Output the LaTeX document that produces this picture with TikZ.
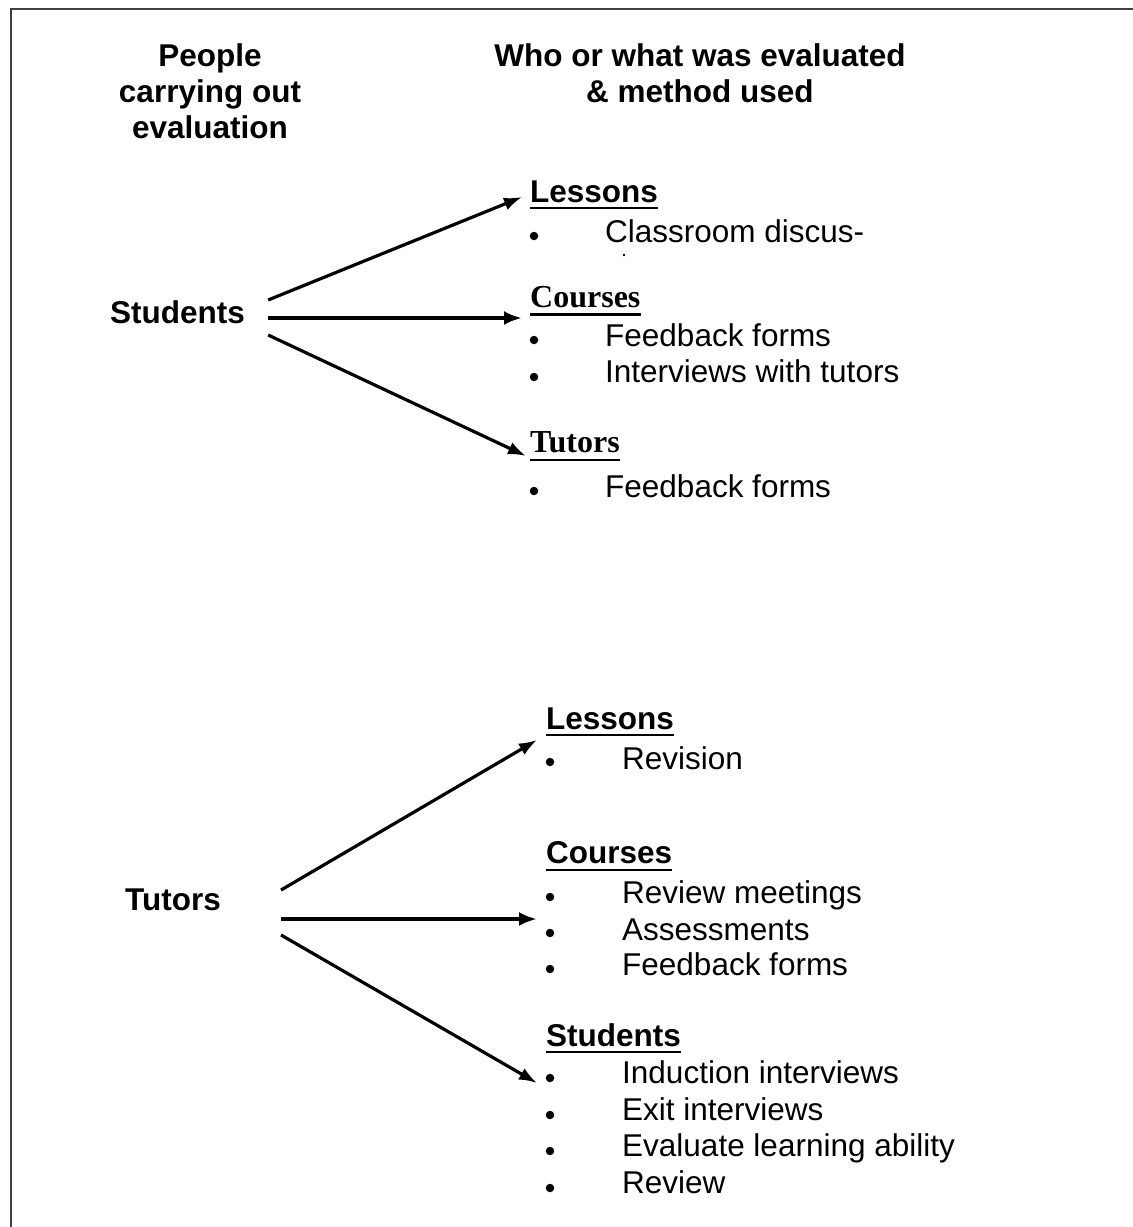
\documentclass[tikz,border=0pt]{standalone}
\usepackage{fontspec}
\setmainfont{Liberation Sans}
\newfontfamily\serifb{Liberation Serif}
\usetikzlibrary{arrows.meta}
\begin{document}
\begin{tikzpicture}[x=1pt,y=-1pt,
  frame/.style={line width=2.8pt,black!75},
  hd/.style={font=\fontsize{31.5}{36}\selectfont\bfseries,inner sep=0,align=center,anchor=north},
  lbl/.style={font=\fontsize{31.5}{36}\selectfont\bfseries,inner sep=0,anchor=base west},
  shead/.style={font=\fontsize{31.5}{36}\selectfont\bfseries,inner sep=0,anchor=base west},
  rhead/.style={font=\fontsize{32}{36}\selectfont\serifb\bfseries,inner sep=0,anchor=base west},
  item/.style={font=\fontsize{31.5}{36}\selectfont,inner sep=0,anchor=base west},
  bul/.style={circle,fill=black,inner sep=0,minimum size=8.5pt},
  ul/.style={line width=2.6pt},
  arr/.style={-{Latex[length=18pt,width=13pt]},line width=3.2pt},
  arrm/.style={-{Latex[length=18pt,width=14pt]},line width=4.2pt}]
\useasboundingbox (0,0) rectangle (1133,1227);
\draw[frame] (11,1227) -- (11,9) -- (1133,9);

% column headers
\node[hd] (ppl) at (210,43) {People\\carrying out\\evaluation};
\node[hd] (who) at (700,43) {Who or what was evaluated\\\& method used};

% ---------- Students section ----------
\node[lbl] (stud) at (110,323) {Students};

\node[shead] (les1) at (530,202) {Lessons};
\draw[ul] ([yshift=-6pt]les1.base west) -- ([yshift=-6pt]les1.base east);
\node[bul] (b1) at (534,236) {};
\node[item] (i1) at (605,242) {Classroom discus-};
\fill (624,255) circle (1.3pt);

\node[rhead] (cou1) at (530,307) {Courses};
\draw[ul] ([yshift=-7.5pt]cou1.base west) -- ([yshift=-7.5pt]cou1.base east);
\node[bul] (b2) at (534,340) {};
\node[item] (i2) at (605,346) {Feedback forms};
\node[bul] (b3) at (534,377) {};
\node[item] (i3) at (605,382) {Interviews with tutors};

\node[rhead] (tut1) at (530,452) {Tutors};
\draw[ul] ([yshift=-8pt]tut1.base west) -- ([yshift=-8pt]tut1.base east);
\node[bul] (b4) at (534,491) {};
\node[item] (i4) at (605,497) {Feedback forms};

\draw[arr] ([xshift=23pt,yshift=23pt]stud.base east) -- ([xshift=-8pt,yshift=5pt]les1.base west);
\draw[arrm] ([xshift=23pt,yshift=5pt]stud.base east) -- ([xshift=-8pt,yshift=-11pt]cou1.base west);
\draw[arr] ([xshift=23pt,yshift=-12pt]stud.base east) -- ([xshift=-4pt,yshift=-4pt]tut1.base west);

% ---------- Tutors section ----------
\node[lbl] (tut2) at (125,910) {Tutors};

\node[shead] (les2) at (546,729) {Lessons};
\draw[ul] ([yshift=-6pt]les2.base west) -- ([yshift=-6pt]les2.base east);
\node[bul] (c1) at (550,762) {};
\node[item] (j1) at (622,769) {Revision};

\node[shead] (cou2) at (546,863) {Courses};
\draw[ul] ([yshift=-7pt]cou2.base west) -- ([yshift=-7pt]cou2.base east);
\node[bul] (c2) at (550,897) {};
\node[item] (j2) at (622,903) {Review meetings};
\node[bul] (c3) at (550,933) {};
\node[item] (j3) at (622,940) {Assessments};
\node[bul] (c4) at (550,969) {};
\node[item] (j4) at (622,975) {Feedback forms};

\node[shead] (stu2) at (546,1046) {Students};
\draw[ul] ([yshift=-6pt]stu2.base west) -- ([yshift=-6pt]stu2.base east);
\node[bul] (c5) at (550,1078) {};
\node[item] (j5) at (622,1083) {Induction interviews};
\node[bul] (c6) at (550,1115) {};
\node[item] (j6) at (622,1120) {Exit interviews};
\node[bul] (c7) at (550,1151) {};
\node[item] (j7) at (622,1156) {Evaluate learning ability};
\node[bul] (c8) at (550,1188) {};
\node[item] (j8) at (622,1193) {Review};

\draw[arr] ([xshift=60pt,yshift=20pt]tut2.base east) -- ([xshift=-9pt,yshift=-11pt]les2.base west);
\draw[arrm] ([xshift=60pt,yshift=-9pt]tut2.base east) -- ([xshift=-9pt,yshift=-56pt]cou2.base west);
\draw[arr] ([xshift=60pt,yshift=-25pt]tut2.base east) -- ([xshift=-9pt,yshift=-37pt]stu2.base west);
\end{tikzpicture}
\end{document}
